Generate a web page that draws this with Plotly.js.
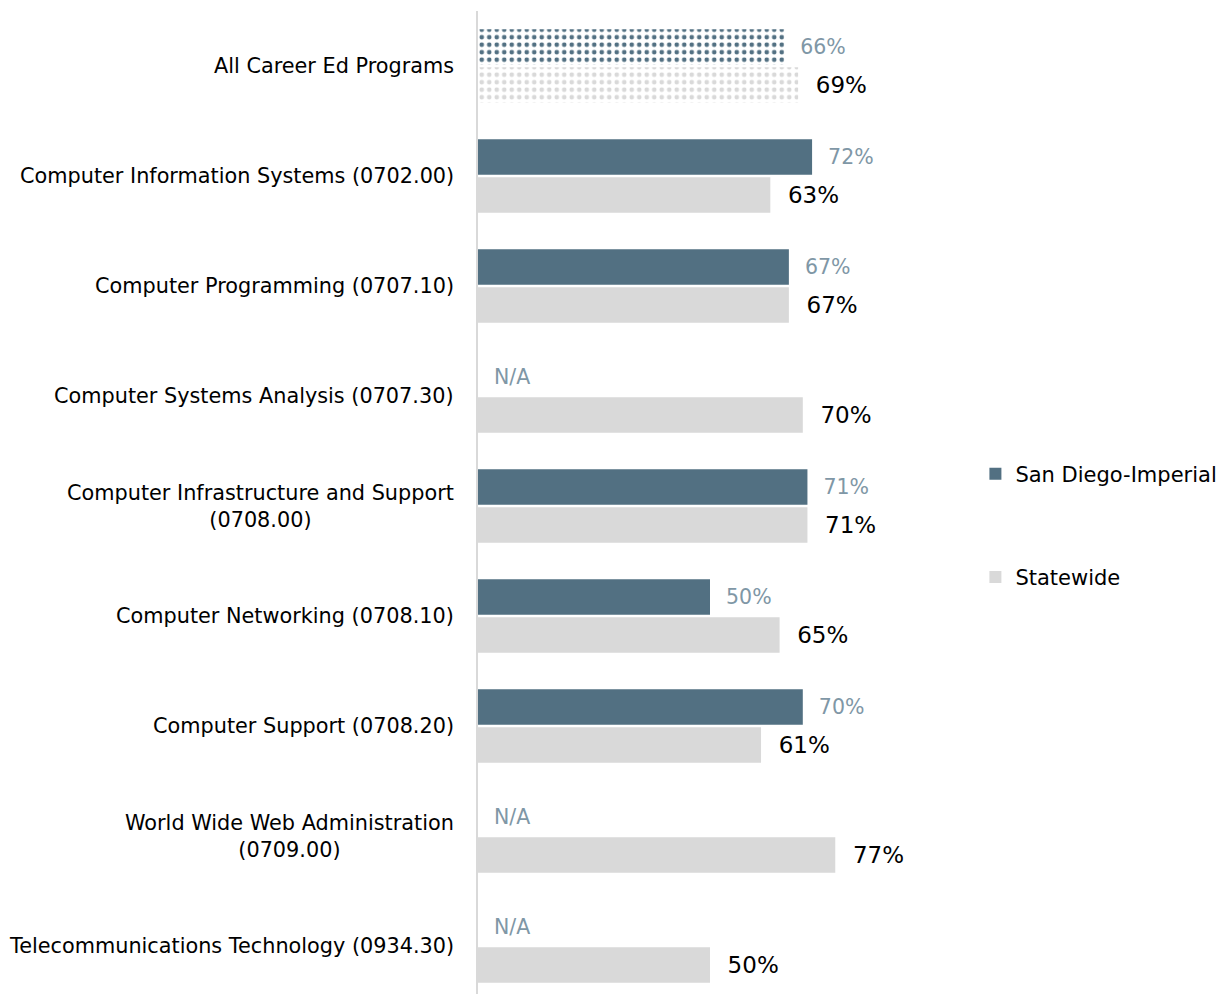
<!DOCTYPE html>
<html>
<head>
<meta charset="utf-8">
<script src="https://cdn.plot.ly/plotly-3.0.1.min.js"></script>
<style>
html,body{margin:0;padding:0;overflow:hidden;background:#fff;}
#chart{width:1231px;height:1001px;}
</style>
</head>
<body>
<div id="chart"></div>
<script>
const categories = [
  "All Career Ed Programs",
  "Computer Information Systems (0702.00)",
  "Computer Programming (0707.10)",
  "Computer Systems Analysis (0707.30)",
  "Computer Infrastructure and Support<br>(0708.00)",
  "Computer Networking (0708.10)",
  "Computer Support (0708.20)",
  "World Wide Web Administration<br>(0709.00)",
  "Telecommunications Technology (0934.30)"
];
const sanDiegoImperial = [66, 72, 67, null, 71, 50, 70, null, null];
const statewide = [69, 63, 67, 70, 71, 65, 61, 77, 50];
const seriesNames = ["San Diego-Imperial", "Statewide"];

const FONT = "DejaVu Sans, sans-serif";
const sdColor = "#527082";
const swColor = "#d9d9d9";
const sdText = sanDiegoImperial.map(v => v === null ? "N/A" : v + "%");
const swText = statewide.map(v => v + "%");
const patternShapes = categories.map((c, i) => i === 0 ? "." : "");
// traces are fed bottom-to-top so the legend swatch takes a plain (unpatterned) point
const rev = a => a.slice().reverse();

const traces = [
  {
    type: "bar", orientation: "h", name: seriesNames[0], legendgroup: "a",
    y: rev(categories), x: rev(sanDiegoImperial.map(v => v === null ? 0 : v)),
    text: rev(sdText), texttemplate: "\u00a0\u00a0%{text}", textposition: "outside",
    textfont: {family: FONT, size: 20.5, color: "#7f97a6"},
    constraintext: "none", cliponaxis: false, hoverinfo: "skip",
    marker: {color: sdColor, line: {width: 0},
      pattern: {shape: rev(patternShapes), fgcolor: sdColor, bgcolor: "#ffffff", size: 7.5, solidity: 0.3, fillmode: "replace"}}
  },
  {
    type: "bar", orientation: "h", name: seriesNames[1], legendgroup: "b",
    y: rev(categories), x: rev(statewide),
    text: rev(swText), texttemplate: "\u00a0\u00a0%{text}", textposition: "outside",
    textfont: {family: FONT, size: 23, color: "#000000"},
    constraintext: "none", cliponaxis: false, hoverinfo: "skip",
    marker: {color: swColor, line: {width: 0},
      pattern: {shape: rev(patternShapes), fgcolor: swColor, bgcolor: "#ffffff", size: 7.5, solidity: 0.3, fillmode: "replace"}}
  }
];

const annotations = categories.map(c => ({
  text: c, xref: "paper", yref: "y", x: 0, y: c, xanchor: "right", yanchor: "middle",
  xshift: -22, align: "center", showarrow: false,
  font: {family: FONT, size: 20.8, color: "#000000"}
}));

const layout = {
  width: 1231, height: 1001,
  margin: {l: 478, r: 289, t: 11, b: 0, pad: 0},
  paper_bgcolor: "#ffffff", plot_bgcolor: "#ffffff",
  barmode: "group", bargap: 0.31, bargroupgap: 0.06,
  showlegend: true,
  legend: {x: 1.072, y: 0.553, xanchor: "left", yanchor: "top", traceorder: "grouped",
    tracegroupgap: 73, font: {family: FONT, size: 21, color: "#000000"}, itemwidth: 30},
  xaxis: {range: [0, 100], visible: false, fixedrange: true},
  yaxis: {autorange: "reversed", categoryorder: "array", categoryarray: categories,
    showticklabels: false, showline: true, linecolor: "#d9d9d9",
    linewidth: 2, ticks: "", showgrid: false, zeroline: false},
  annotations: annotations
};

Plotly.newPlot("chart", traces, layout, {staticPlot: true, displayModeBar: false});
</script>
</body>
</html>
